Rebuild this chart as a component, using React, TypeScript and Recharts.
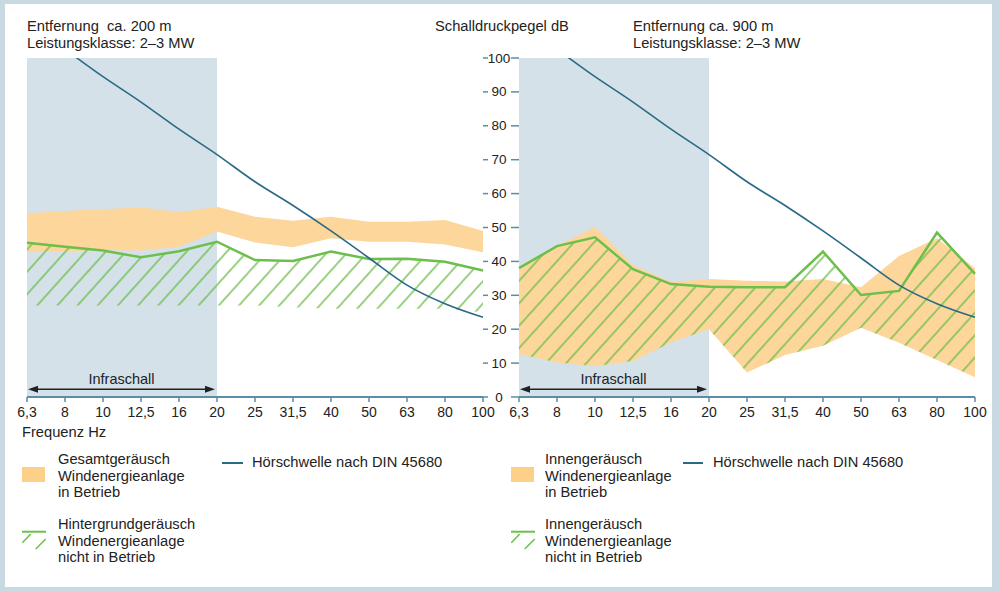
import React from "react";
import {
  ComposedChart,
  Area,
  Line,
  XAxis,
  YAxis,
  ReferenceArea,
  ReferenceLine,
} from "recharts";

// Terzbänder (Hz)
const freqs = ["6,3", "8", "10", "12,5", "16", "20", "25", "31,5", "40", "50", "63", "80", "100"];
const yTicks = [0, 10, 20, 30, 40, 50, 60, 70, 80, 90, 100];

// Hörschwelle nach DIN 45680 (dB), oberhalb 100 abgeschnitten
const hoerschwelle = [110, 102.5, 94.5, 87, 79, 71.5, 63.5, 56.5, 49, 41, 33, 27.5, 23.5];

// Entfernung ca. 200 m
const gesamtHi200 = [54.2, 54.9, 55.4, 56, 54.5, 56.1, 53.2, 52, 53.2, 51.7, 51.7, 52.2, 49];
const gesamtLo200 = [42.7, 43, 43.3, 43.2, 44.3, 48.8, 45.6, 44.2, 46.8, 45.8, 45.8, 45, 42.7];
const hintergrund200 = [45.5, 44.3, 43.2, 41.2, 43, 45.8, 40.4, 40.1, 42.9, 40.7, 40.8, 39.9, 37.3];
const hintergrundLo200 = [27, 27, 27, 27, 27, 27, 27, 26.5, 26, 26, 26, 26, 25];

// Entfernung ca. 900 m
const innenHi900 = [38, 44.5, 50.2, 38.9, 34, 34.8, 34.3, 34.1, 34.8, 32.4, 41.6, 46.8, 38];
const innenLo900 = [12.7, 10.2, 9.1, 10.6, 16.1, 20, 7.2, 12.4, 15.1, 20.4, 16, 10.9, 5.8];
const innenAus900 = [38, 44.5, 47.1, 37.7, 33.3, 32.5, 32.4, 32.4, 42.9, 30.1, 31.3, 48.5, 36.3];

const ORANGE = "#fdd69c";
const GREEN = "#6cbf4a";
const BLUE = "#2a6a84";
const AXIS = "#5a8ea6";
const SHADE = "#d4e1e9";
const FONT = "'Liberation Sans', Arial, sans-serif";

const data200 = freqs.map((f, i) => ({
  i,
  band: [gesamtLo200[i], gesamtHi200[i]],
  hatch: [hintergrundLo200[i], hintergrund200[i]],
  green: hintergrund200[i],
  hs: hoerschwelle[i],
}));

const data900 = freqs.map((f, i) => ({
  i,
  band: [innenLo900[i], innenHi900[i]],
  hatch: [innenLo900[i], innenAus900[i]],
  green: innenAus900[i],
  hs: hoerschwelle[i],
}));

function Hatch({ id }: { id: string }) {
  return (
    <defs>
      <pattern
        id={id}
        patternUnits="userSpaceOnUse"
        width="15"
        height="15"
        patternTransform="rotate(42)"
      >
        <line x1="7" y1="0" x2="7" y2="15" stroke={GREEN} strokeWidth="1.4" />
      </pattern>
    </defs>
  );
}

function InfraArrow(props: any) {
  const { x1, y1, x2 } = props;
  const y = y1;
  const l = x1 + 1;
  const r = x2 - 2;
  return (
    <g>
      <line x1={l + 4} y1={y} x2={r - 4} y2={y} stroke="#222" strokeWidth={1.5} />
      <polygon points={`${l},${y} ${l + 10},${y - 3.5} ${l + 10},${y + 3.5}`} fill="#222" />
      <polygon points={`${r},${y} ${r - 10},${y - 3.5} ${r - 10},${y + 3.5}`} fill="#222" />
      <text
        x={(l + r) / 2}
        y={y - 5}
        textAnchor="middle"
        fontSize={14.5}
        fontFamily={FONT}
        fill="#222"
      >
        Infraschall
      </text>
    </g>
  );
}

function YTick(props: any) {
  const { y, payload } = props;
  return (
    <g>
      <line x1={3} x2={8} y1={y} y2={y} stroke={AXIS} strokeWidth={1.5} />
      <line x1={31} x2={39} y1={y} y2={y} stroke={AXIS} strokeWidth={1.5} />
      <text
        x={19}
        y={y}
        dy={4.5}
        textAnchor="middle"
        fontSize={13.5}
        fontFamily={FONT}
        fill="#222"
      >
        {payload.value}
      </text>
    </g>
  );
}

function Panel({
  data,
  hatchId,
  withAxis,
  width,
}: {
  data: any[];
  hatchId: string;
  withAxis: boolean;
  width: number;
}) {
  return (
    <ComposedChart
      width={width}
      height={430}
      data={data}
      margin={{ top: 58, left: withAxis ? 0 : 27, right: withAxis ? 24 : 17, bottom: 3 }}
    >
      <Hatch id={hatchId} />
      <XAxis
        dataKey="i"
        type="number"
        domain={[0, 12]}
        ticks={freqs.map((f, i) => i)}
        interval={0}
        tickFormatter={(v) => freqs[v]}
        tick={{ fontSize: 14, fill: "#222", fontFamily: FONT }}
        tickLine={{ stroke: AXIS, strokeWidth: 1.5 }}
        tickSize={5}
        tickMargin={5}
        axisLine={{ stroke: AXIS, strokeWidth: 2 }}
        height={30}
      />
      <YAxis
        domain={[0, 100]}
        ticks={yTicks}
        allowDataOverflow
        hide={!withAxis}
        width={39}
        axisLine={false}
        tickLine={false}
        tick={<YTick />}
      />
      <ReferenceArea x1={0} x2={5} y1={0} y2={100} fill={SHADE} fillOpacity={1} stroke="none" />
      <Area
        dataKey="band"
        type="linear"
        fill={ORANGE}
        fillOpacity={1}
        stroke="none"
        isAnimationActive={false}
        activeDot={false}
      />
      <Area
        dataKey="hatch"
        type="linear"
        fill={`url(#${hatchId})`}
        fillOpacity={1}
        stroke="none"
        isAnimationActive={false}
        activeDot={false}
      />
      <Line
        dataKey="green"
        type="linear"
        stroke={GREEN}
        strokeWidth={2.5}
        dot={false}
        isAnimationActive={false}
      />
      <Line
        dataKey="hs"
        type="monotone"
        stroke={BLUE}
        strokeWidth={1.6}
        dot={false}
        isAnimationActive={false}
      />
      <ReferenceLine
        segment={[
          { x: 0, y: 2.3 },
          { x: 5, y: 2.3 },
        ]}
        shape={<InfraArrow />}
      />
    </ComposedChart>
  );
}

const txt: React.CSSProperties = {
  position: "absolute",
  fontFamily: FONT,
  fontSize: 14.7,
  lineHeight: "16.7px",
  color: "#222",
  whiteSpace: "pre",
};

function HatchIcon({ left, top }: { left: number; top: number }) {
  return (
    <svg style={{ position: "absolute", left, top }} width={25} height={20}>
      <line x1={0} y1={1.7} x2={24} y2={1.7} stroke={GREEN} strokeWidth={2} />
      <line x1={0.3} y1={12.7} x2={8.7} y2={4} stroke={GREEN} strokeWidth={1.5} />
      <line x1={13.7} y1={19} x2={23.7} y2={9} stroke={GREEN} strokeWidth={1.5} />
    </svg>
  );
}

export default function App() {
  return (
    <div
      style={{
        position: "absolute",
        left: 0,
        top: 0,
        width: 999,
        height: 592,
        background: "#c8d9e2",
        overflow: "hidden",
      }}
    >
      <div
        style={{ position: "absolute", left: 5, top: 4, width: 987, height: 583, background: "#fff" }}
      />
      <div style={{ ...txt, left: 27, top: 18, lineHeight: "17px" }}>
        {"Entfernung  ca. 200 m\nLeistungsklasse: 2–3 MW"}
      </div>
      <div style={{ ...txt, left: 435, top: 18, lineHeight: "17px" }}>Schalldruckpegel dB</div>
      <div style={{ ...txt, left: 633, top: 18, lineHeight: "17px" }}>
        {"Entfernung ca. 900 m\nLeistungsklasse: 2–3 MW"}
      </div>

      <div style={{ position: "absolute", left: 0, top: 0 }}>
        <Panel data={data200} hatchId="hatch200" withAxis={false} width={500} />
      </div>
      <div style={{ position: "absolute", left: 480, top: 0 }}>
        <Panel data={data900} hatchId="hatch900" withAxis={true} width={519} />
      </div>

      <div style={{ ...txt, left: 22, top: 424 }}>Frequenz Hz</div>

      {/* Legende links */}
      <div style={{ position: "absolute", left: 22, top: 467, width: 23, height: 15, background: "#fdd08a" }} />
      <div style={{ ...txt, left: 58, top: 451 }}>
        {"Gesamtgeräusch\nWindenergieanlage\nin Betrieb"}
      </div>
      <div style={{ position: "absolute", left: 222, top: 462, width: 21, height: 2, background: BLUE }} />
      <div style={{ ...txt, left: 252, top: 454 }}>Hörschwelle nach DIN 45680</div>
      <HatchIcon left={22} top={530} />
      <div style={{ ...txt, left: 58, top: 516 }}>
        {"Hintergrundgeräusch\nWindenergieanlage\nnicht in Betrieb"}
      </div>

      {/* Legende rechts */}
      <div style={{ position: "absolute", left: 511, top: 467, width: 23, height: 15, background: "#fdd08a" }} />
      <div style={{ ...txt, left: 545, top: 451 }}>
        {"Innengeräusch\nWindenergieanlage\nin Betrieb"}
      </div>
      <div style={{ position: "absolute", left: 683, top: 462, width: 20, height: 2, background: BLUE }} />
      <div style={{ ...txt, left: 713, top: 454 }}>Hörschwelle nach DIN 45680</div>
      <HatchIcon left={511} top={530} />
      <div style={{ ...txt, left: 545, top: 516 }}>
        {"Innengeräusch\nWindenergieanlage\nnicht in Betrieb"}
      </div>
    </div>
  );
}
